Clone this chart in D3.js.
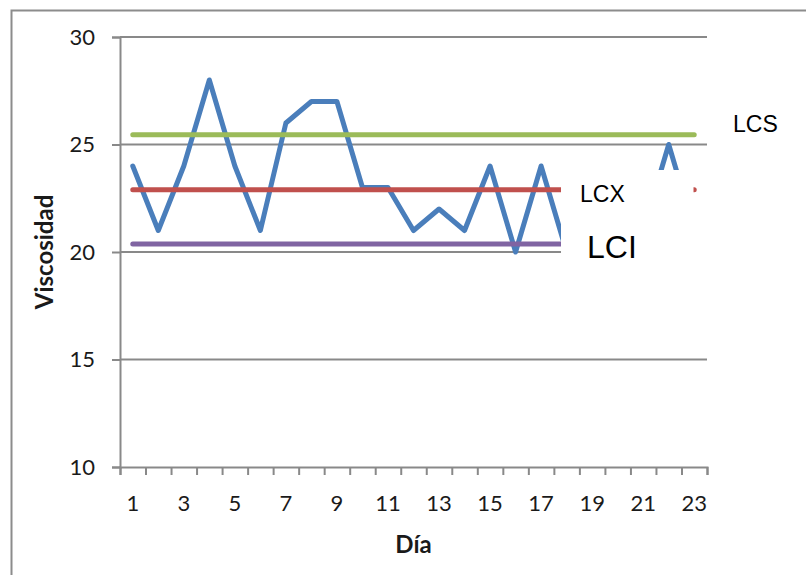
<!DOCTYPE html>
<html>
<head>
<meta charset="utf-8">
<script src="https://cdn.jsdelivr.net/npm/d3@7"></script>
<style>
  html, body { margin: 0; padding: 0; background: #fff; }
  svg { display: block; }
  text { font-family: Lato, "Open Sans", sans-serif; fill: #1a1a1a; }
</style>
</head>
<body>
<svg id="chart" width="806" height="575"></svg>
<script>
// Daily viscosity readings (days 1..23)
const days = d3.range(1, 24);
const viscosity = [24, 21, 24, 28, 24, 21, 26, 27, 27, 23, 23, 21, 22, 21, 24, 20, 24, 20, 21, 20, 21, 25, 21];

// Control limits
const limitNames = ["LCS", "LCX", "LCI"];
const limitValues = [25.45, 22.9, 20.37];
const limitColors = ["#9bbb59", "#c0504d", "#8064a2"];

// Axis ticks
const yTicks = [10, 15, 20, 25, 30];
const xLabelDays = days.filter(d => d % 2 === 1);

const svg = d3.select("#chart");

const plotLeft = 120, plotRight = 707, plotTop = 37, plotBottom = 467;

const x = d3.scaleBand().domain(days).range([plotLeft, plotRight]).paddingInner(0).paddingOuter(0);
const cx = d => x(d) + x.bandwidth() / 2;
const y = d3.scaleLinear().domain([10, 30]).range([plotBottom, plotTop]);

// Outer chart frame
svg.append("rect")
  .attr("x", 11.5).attr("y", 10.5)
  .attr("width", 900).attr("height", 700)
  .attr("fill", "none").attr("stroke", "#8c8c8c").attr("stroke-width", 2);

// Horizontal gridlines
svg.append("g")
  .selectAll("line")
  .data(yTicks.filter(v => v !== 10))
  .join("line")
  .attr("x1", plotLeft).attr("x2", plotRight)
  .attr("y1", d => y(d)).attr("y2", d => y(d))
  .attr("stroke", "#898989").attr("stroke-width", 2);

// Y axis
const yAxis = svg.append("g")
  .attr("transform", `translate(${plotLeft},0)`)
  .call(d3.axisLeft(y).tickValues(yTicks).tickSize(8).tickPadding(17));
yAxis.select(".domain").attr("stroke", "#898989").attr("stroke-width", 2);
yAxis.selectAll(".tick line").attr("stroke", "#898989").attr("stroke-width", 2);
yAxis.selectAll(".tick text").attr("font-size", 22).attr("font-family", "Lato, sans-serif").attr("fill", "#1a1a1a");

// X axis: tick marks on category boundaries
const xb = d3.scaleLinear().domain([0.5, 23.5]).range([plotLeft, plotRight]);
const xAxisTicks = svg.append("g")
  .attr("transform", `translate(0,${plotBottom})`)
  .call(d3.axisBottom(xb).tickValues(d3.range(0.5, 24, 1)).tickSize(8).tickFormat(""));
xAxisTicks.select(".domain").attr("stroke", "#898989").attr("stroke-width", 2);
xAxisTicks.selectAll(".tick line").attr("stroke", "#898989").attr("stroke-width", 2);

// X axis labels on odd days
const xAxisLabels = svg.append("g")
  .attr("transform", `translate(0,${plotBottom})`)
  .call(d3.axisBottom(x).tickValues(xLabelDays).tickSize(0).tickPadding(28));
xAxisLabels.select(".domain").remove();
xAxisLabels.selectAll(".tick text").attr("font-size", 22).attr("font-family", "Lato, sans-serif").attr("fill", "#1a1a1a");

// Viscosity series
const line = d3.line().x((d, i) => cx(days[i])).y(d => y(d));
svg.append("path")
  .datum(viscosity)
  .attr("d", line)
  .attr("fill", "none")
  .attr("stroke", "#4a7ebb")
  .attr("stroke-width", 5)
  .attr("stroke-linejoin", "round")
  .attr("stroke-linecap", "round");

// Control limit lines
limitValues.forEach((v, k) => {
  svg.append("path")
    .datum(days.map(() => v))
    .attr("d", line)
    .attr("fill", "none")
    .attr("stroke", limitColors[k])
    .attr("stroke-width", 5)
    .attr("stroke-linecap", "round");
});

// White label boxes behind the centre and lower limit names
svg.append("rect")
  .attr("x", 561).attr("y", 170)
  .attr("width", 132.5).attr("height", 42)
  .attr("fill", "#fff");
svg.append("rect")
  .attr("x", 561).attr("y", 210)
  .attr("width", 185).attr("height", 60)
  .attr("fill", "#fff");

// Limit labels
const labelSpec = [
  { name: limitNames[0], x: 733, y: 132, size: 23 },
  { name: limitNames[1], x: 580, y: 202, size: 23 },
  { name: limitNames[2], x: 587, y: 258, size: 32 }
];
svg.append("g")
  .selectAll("text")
  .data(labelSpec)
  .join("text")
  .attr("x", d => d.x).attr("y", d => d.y)
  .attr("font-size", d => d.size)
  .style("font-family", "'Liberation Sans', Arial, sans-serif")
  .style("fill", "#000")
  .text(d => d.name);

// Axis titles
svg.append("text")
  .attr("x", (plotLeft + plotRight) / 2).attr("y", 553)
  .attr("text-anchor", "middle")
  .attr("font-size", 24).attr("font-weight", "bold")
  .text("Día");

svg.append("text")
  .attr("transform", `translate(53,${(plotTop + plotBottom) / 2}) rotate(-90)`)
  .attr("text-anchor", "middle")
  .attr("font-size", 24).attr("font-weight", "bold")
  .text("Viscosidad");
</script>
</body>
</html>
